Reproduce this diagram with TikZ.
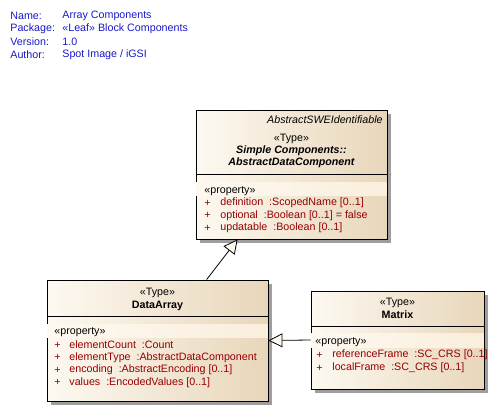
\documentclass[tikz,border=0pt]{standalone}
\usepackage{fontspec}
\setmainfont{Liberation Sans}
\usetikzlibrary{arrows.meta,shadows}
\definecolor{eaBlue}{RGB}{25,25,200}
\definecolor{eaRed}{RGB}{150,0,0}
\definecolor{eaLight}{RGB}{253,249,241}
\definecolor{eaTan}{RGB}{232,214,186}
\definecolor{eaBand}{RGB}{250,238,220}
\tikzset{>/.tip={Triangle[length=14pt,width=14pt,fill=eaLight]}}
\tikzset{
  uml/.style={draw, line width=0.8pt, inner sep=0pt, left color=eaLight, right color=eaTan,
    drop shadow={shadow xshift=4pt, shadow yshift=-4pt, fill=black!38, opacity=1}},
  band/.style={left color=eaLight, right color=eaBand},
  txt/.style={inner sep=0pt, font=\fontsize{10.7}{12}\selectfont},
  hdr/.style={txt, anchor=west, text=eaBlue},
  attr/.style={txt, anchor=west, text=eaRed},
}

\begin{document}
\begin{tikzpicture}[x=1pt, y=-1pt, line width=0.8pt]
\useasboundingbox (0,0) rectangle (493,410);
% header
\node[hdr] (h1) at (10,16)   {Name:};
\node[hdr] (h2) at (10,29)   {Package:};
\node[hdr] (h3) at (10,42)   {Version:};
\node[hdr] (h4) at (10,55)   {Author:};
\node[hdr] (v1) at (62,16)   {Array Components};
\node[hdr] (v2) at (62,29)   {«Leaf» Block Components};
\node[hdr] (v3) at (62,42)   {1.0};
\node[hdr] (v4) at (62,55)   {Spot Image / iGSI};

% boxes
\node[uml, minimum width=191pt, minimum height=129pt] (adc) at (291.5,174.5) {};
\node[uml, minimum width=221pt, minimum height=121pt] (da)  at (157.5,340.5) {};
\node[uml, minimum width=173pt, minimum height=98pt]  (mx)  at (397.5,340)   {};

\draw ([yshift=-65pt]adc.north west) -- ([yshift=-65pt]adc.north east);
\draw ([yshift=-37pt]da.north west)  -- ([yshift=-37pt]da.north east);
\draw ([yshift=-36pt]mx.north west)  -- ([yshift=-36pt]mx.north east);

\path[band] ([shift={(0.5pt,-73pt)}]adc.north west) rectangle ([shift={(-0.5pt,-86pt)}]adc.north east);
\path[band] ([shift={(0.5pt,-45pt)}]da.north west)  rectangle ([shift={(-0.5pt,-58pt)}]da.north east);
\path[band] ([shift={(0.5pt,-43pt)}]mx.north west)  rectangle ([shift={(-0.5pt,-57pt)}]mx.north east);

% AbstractDataComponent
\node[txt, anchor=east] (adc1) at (383,120) {\itshape AbstractSWEIdentifiable};
\node[txt] (adc2) at (291.5,139) {«Type»};
\node[txt] (adc3) at (291.5,151) {\bfseries\itshape Simple Components::};
\node[txt] (adc4) at (291.5,163) {\bfseries\itshape AbstractDataComponent};
\node[txt, anchor=west] (adc5) at (204,191.5) {«property»};
\foreach \y/\t in {203/{definition~~:ScopedName [0..1]},
                   215.5/{optional~~:Boolean [0..1] = false},
                   228/{updatable~~:Boolean [0..1]}} {
  \node[attr] at (204,\y) {+};
  \node[attr] at (220,\y) {\t};
}

% DataArray
\node[txt] (da1) at (157.5,293) {«Type»};
\node[txt] (da2) at (157.5,306) {\bfseries DataArray};
\node[txt, anchor=west] (da3) at (54,332) {«property»};
\foreach \y/\t in {345/{elementCount~~:Count},
                   357.5/{elementType~~:AbstractDataComponent},
                   370/{encoding~~:AbstractEncoding [0..1]},
                   382.5/{values~~:EncodedValues [0..1]}} {
  \node[attr] at (54,\y) {+};
  \node[attr] at (69,\y) {\t};
}

% Matrix
\node[txt] (mx1) at (397.5,303) {«Type»};
\node[txt] (mx2) at (397.5,315) {\bfseries Matrix};
\node[txt, anchor=west] (mx3) at (315,342) {«property»};
\foreach \y/\t in {355/{referenceFrame~~:SC\_CRS [0..1]},
                   368/{localFrame~~:SC\_CRS [0..1]}} {
  \node[attr] at (316,\y) {+};
  \node[attr] at (332,\y) {\t};
}

% generalizations
\path[->] ([xshift=160pt]da.north west) edge ([xshift=42pt]adc.south west);
\path[->] (mx.west) edge (da.east);
\end{tikzpicture}
\end{document}
